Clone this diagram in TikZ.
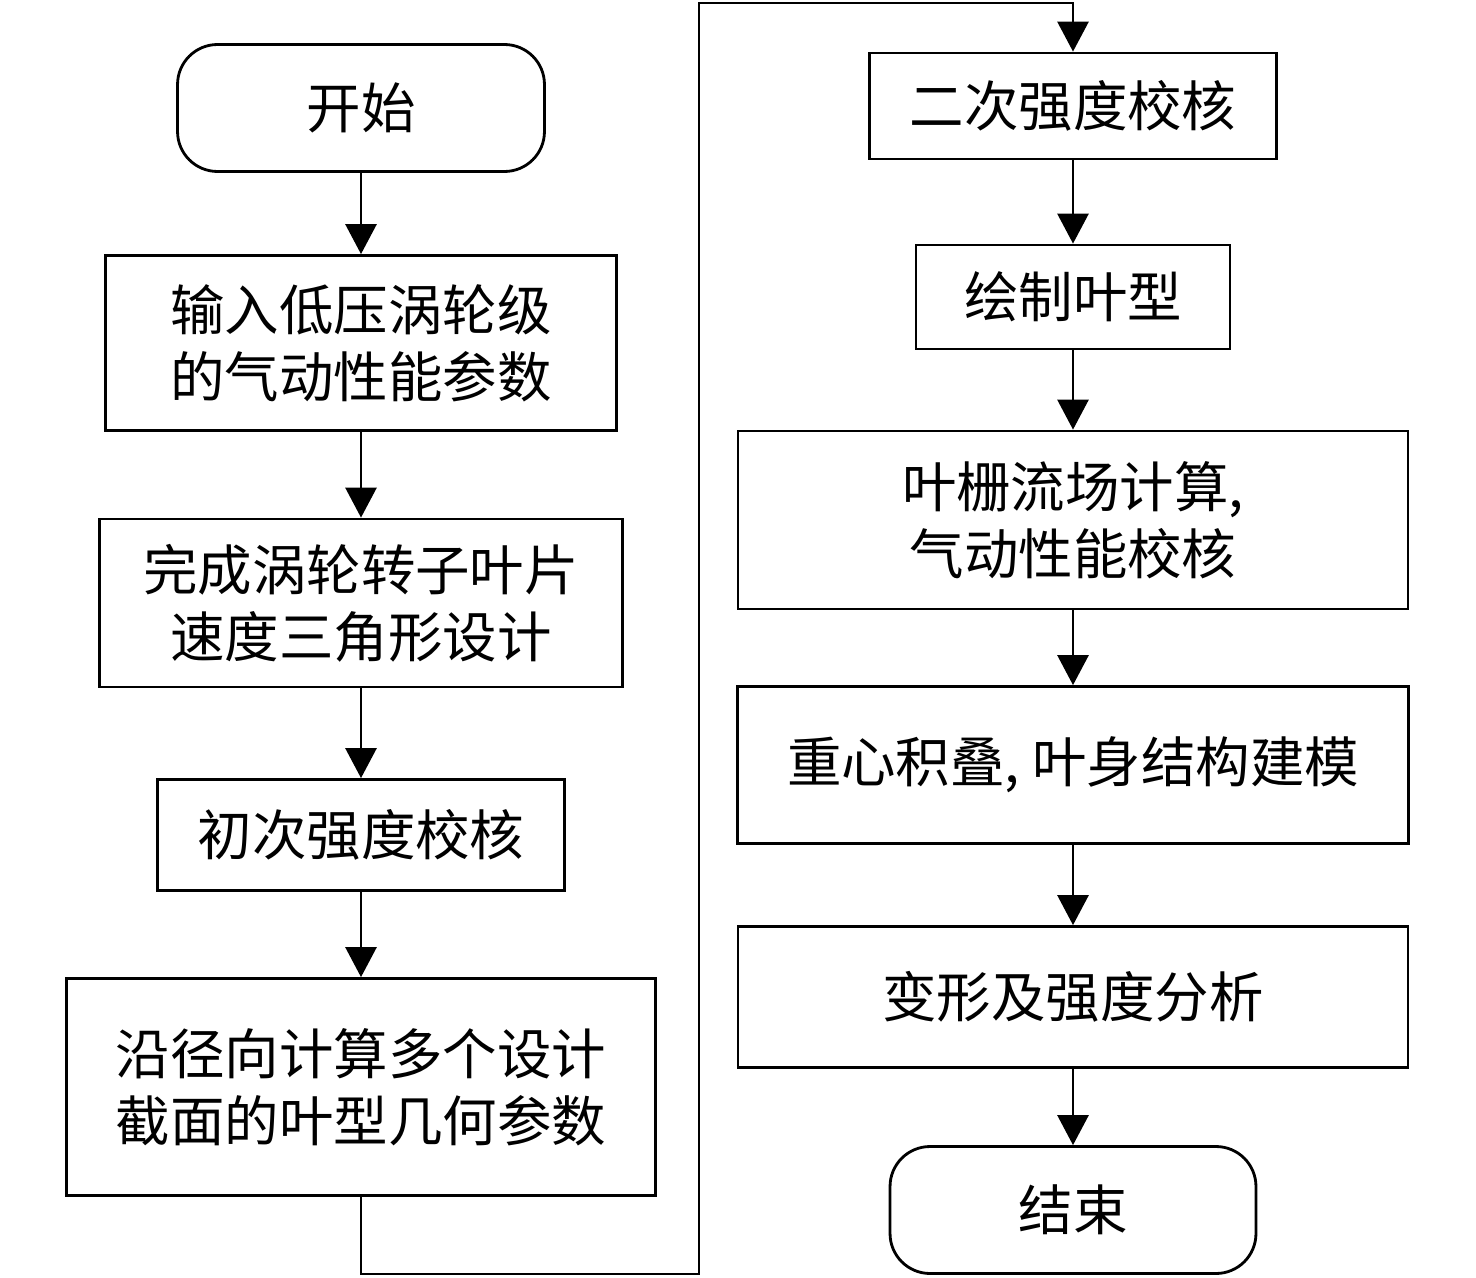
\documentclass[tikz,border=0pt]{standalone}
\usepackage{fontspec}
\setmainfont{Noto Sans CJK SC}
\usetikzlibrary{arrows.meta}
\tikzset{
  blk/.style={draw, line width=1.6pt, align=center, inner sep=0pt,
    font=\fontsize{31}{38}\selectfont},
  term/.style={blk, rounded corners=0.8cm},
  flow/.style={line width=1.6pt, -{Triangle[length=0.6cm,width=0.62cm]}}
}
\begin{document}
\begin{tikzpicture}[x=0.02cm,y=-0.02cm]
\useasboundingbox (0,0) rectangle (1476,1277);
% left column
\node[term, minimum width=7.34cm, minimum height=2.54cm] (start) at (361,108) {开始};
\node[blk, minimum width=10.22cm, minimum height=3.5cm] (input) at (361,343) {输入低压涡轮级\\的气动性能参数};
\node[blk, minimum width=10.46cm, minimum height=3.36cm] (tri) at (361,603) {完成涡轮转子叶片\\速度三角形设计};
\node[blk, minimum width=8.14cm, minimum height=2.22cm] (chk1) at (361,835) {初次强度校核};
\node[blk, minimum width=11.78cm, minimum height=4.34cm] (geom) at (361,1087) {沿径向计算多个设计\\截面的叶型几何参数};
% right column
\node[blk, minimum width=8.14cm, minimum height=2.12cm] (chk2) at (1073,106) {二次强度校核};
\node[blk, minimum width=6.28cm, minimum height=2.08cm] (prof) at (1073,297) {绘制叶型};
\node[blk, minimum width=13.4cm, minimum height=3.56cm] (cfd) at (1073,520) {叶栅流场计算,\\气动性能校核};
\node[blk, minimum width=13.42cm, minimum height=3.14cm] (stack) at (1073,765) {重心积叠, 叶身结构建模};
\node[blk, minimum width=13.4cm, minimum height=2.82cm] (fea) at (1073,997) {变形及强度分析};
\node[term, minimum width=7.32cm, minimum height=2.54cm] (stop) at (1073,1210) {结束};

\foreach \a/\b in {start/input, input/tri, tri/chk1, chk1/geom, chk2/prof, prof/cfd, cfd/stack, stack/fea, fea/stop}
  \draw[flow] (\a) -- (\b);

\coordinate (low) at (361,1274);
\coordinate (top) at (699,3);
\draw[flow] (geom.south) -- (low) -| (top) -| (chk2.north);
\end{tikzpicture}
\end{document}
